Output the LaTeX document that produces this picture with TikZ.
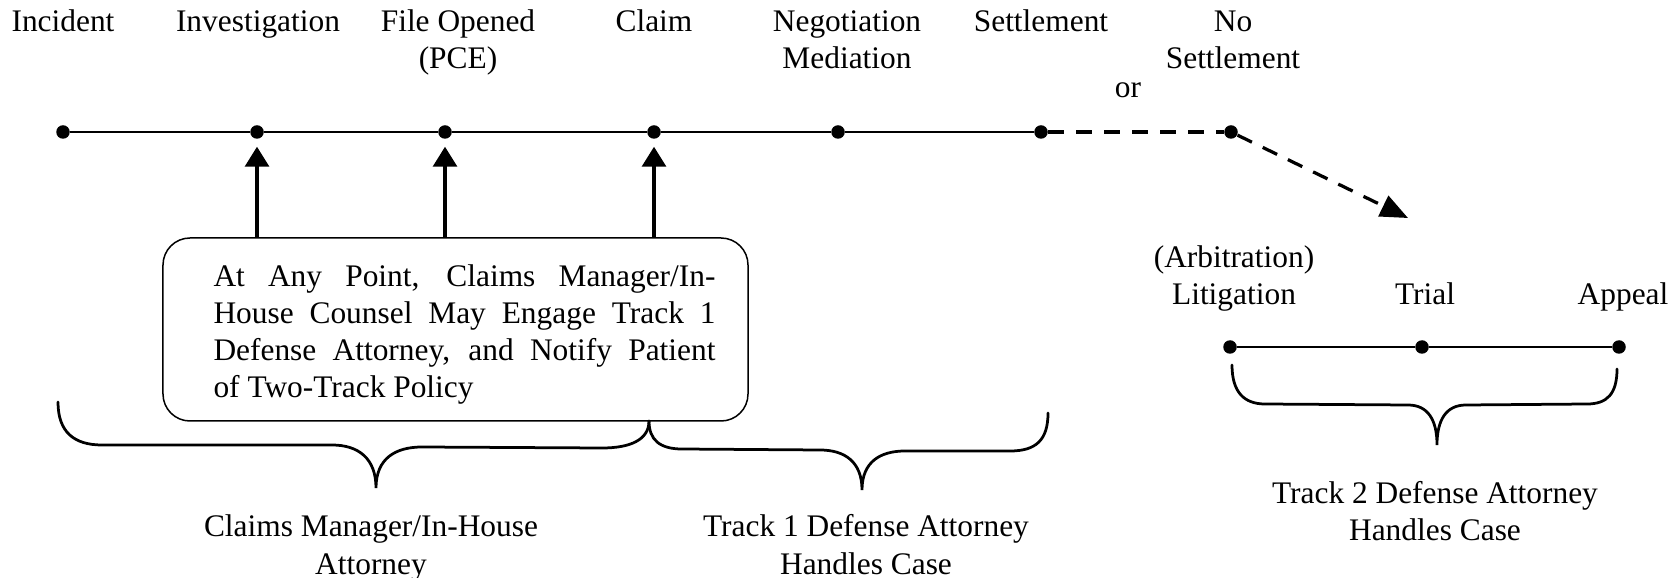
\documentclass[tikz,border=0pt]{standalone}
\usepackage{fontspec}
\setmainfont{Liberation Serif}
\usetikzlibrary{arrows.meta}

\tikzset{
  dot/.style={circle,fill=black,inner sep=0pt,minimum size=5.4pt},
  lbl/.style={anchor=base,align=center,inner sep=0pt},
  brace/.style={line width=1.1pt,line cap=round},
  engage/.style={-{Triangle[length=8pt,width=9.6pt]},line width=1.3pt,shorten >=3pt},
  nosettle/.style={line width=1.3pt,dash pattern=on 6.4pt off 4.8pt},
}

\begin{document}
\begin{tikzpicture}[x=0.4pt,y=-0.4pt,font=\fontsize{12.56}{14.8}\selectfont]
  \useasboundingbox (0,0) rectangle (1679,578);
  % main timeline
  \node[dot] (inc) at (63,132) {};
  \node[dot] (inv) at (257,132) {};
  \node[dot] (file) at (445,132) {};
  \node[dot] (claim) at (654,132) {};
  \node[dot] (nego) at (838,132) {};
  \node[dot] (settle) at (1041,132) {};
  \node[dot] (noset) at (1231,132) {};
  \coordinate (trackb) at (1408,218);
  \draw[line width=0.6pt] (inc) -- (inv) -- (file) -- (claim) -- (nego) -- (settle);
  \draw[nosettle] (settle) -- (noset);
  \draw[nosettle,-{Triangle[length=11pt,width=9pt]}] (noset) -- (trackb);
  \node[lbl] (incl) at (63,32) {Incident};
  \node[lbl] (invl) at (258,32) {Investigation};
  \node[lbl] (filel) at (458,69) {File Opened\\(PCE)};
  \node[lbl] (claiml) at (654,32) {Claim};
  \node[lbl] (negol) at (847,69) {Negotiation\\Mediation};
  \node[lbl] (settlel) at (1041,32) {Settlement};
  \node[lbl] (nosetl) at (1233,69) {No\\Settlement};
  \node[lbl] (orl) at (1128,98) {or};
  % track 2 timeline
  \node[dot] (lit) at (1230,347) {};
  \node[dot] (trial) at (1422,347) {};
  \node[dot] (appeal) at (1619,347) {};
  \draw[line width=0.6pt] (lit) -- (trial) -- (appeal);
  \node[lbl] (litl) at (1234,305) {(Arbitration)\\Litigation};
  \node[lbl] (triall) at (1425,305) {Trial};
  \node[lbl] (appeall) at (1623,305) {Appeal};
  % policy box
  \node[draw,rounded corners=10.8pt,line width=0.6pt,minimum width=234pt,
    minimum height=73.2pt,inner sep=0pt] (policy) at (455.5,329.5) {};
  \node[text width=200.8pt,align=justify,inner sep=0pt,anchor=base west] (policyl)
    at (213,287) {At Any Point, Claims Manager/In-\linebreak House Counsel May Engage
    Track 1\linebreak Defense Attorney, and Notify Patient\linebreak of Two-Track Policy};
  \foreach \t in {inv,file,claim}
    \draw[engage] (policy.north -| \t) -- (\t);
  % braces
  \draw[brace] (58,402) .. controls (58,432) and (74,445) .. (102,445) -- (332,445)
    .. controls (358,445) and (376,458) .. (376,488)
    .. controls (376,458) and (396,447) .. (422,447) -- (602,448)
    .. controls (630,448) and (649,440) .. (649,421);
  \draw[brace] (649,421) .. controls (649,440) and (660,449) .. (682,449) -- (820,450)
    .. controls (845,450) and (862,462) .. (862,490)
    .. controls (862,462) and (880,451) .. (905,451) -- (1010,451)
    .. controls (1036,451) and (1048,440) .. (1048,413);
  \draw[brace] (1232,365) .. controls (1232,392) and (1244,404) .. (1265,404) -- (1408,405)
    .. controls (1428,405) and (1437,420) .. (1437,445)
    .. controls (1437,420) and (1446,405) .. (1466,405) -- (1587,404)
    .. controls (1607,404) and (1617,394) .. (1617,369);
  \node[lbl] (track0l) at (371,574) {Claims Manager/In-House\\Attorney};
  \node[lbl] (track1l) at (866,574) {Track 1 Defense Attorney\\Handles Case};
  \node[lbl] (track2l) at (1435,541) {Track 2 Defense Attorney\\Handles Case};
\end{tikzpicture}
\end{document}
